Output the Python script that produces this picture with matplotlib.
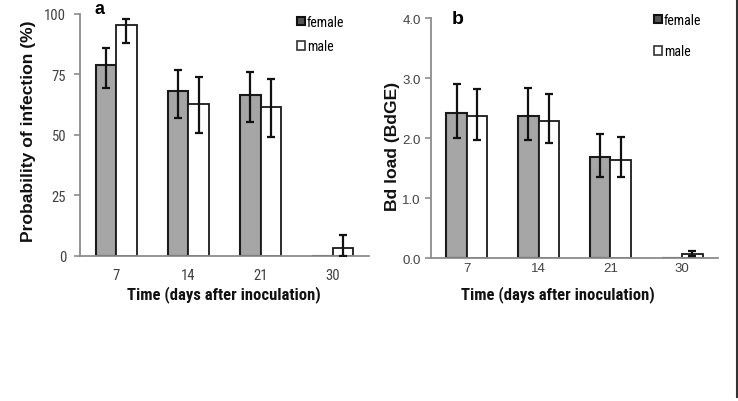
import numpy as np
import matplotlib
matplotlib.use('Agg')
import matplotlib.pyplot as plt
from matplotlib import font_manager
from matplotlib.patches import Patch

# pick a narrow family if there is one
def pick(fams):
    for f in fams:
        try:
            font_manager.findfont(f, fallback_to_default=False)
            return f
        except Exception:
            pass
    return 'DejaVu Sans'

NARROW = pick(['Liberation Sans Narrow', 'Roboto Condensed', 'Liberation Sans'])
SANS = pick(['Liberation Sans', 'DejaVu Sans'])

days = ['7', '14', '21', '30']

# panel a: probability of infection (%)
a_female = [79, 68, 66.5, 0]
a_female_lo = [69.5, 57, 55.5, np.nan]
a_female_hi = [86, 77, 76, np.nan]
a_male = [95.5, 63, 61.5, 3.3]
a_male_lo = [88, 51, 49, 0]
a_male_hi = [98, 74, 73, 8.7]

# panel b: Bd load (BdGE)
b_female = [2.42, 2.36, 1.68, 0]
b_female_lo = [2.0, 1.96, 1.35, np.nan]
b_female_hi = [2.9, 2.84, 2.07, np.nan]
b_male = [2.36, 2.29, 1.64, 0.06]
b_male_lo = [1.97, 1.91, 1.35, 0.03]
b_male_hi = [2.82, 2.73, 2.01, 0.11]

GREY = '#a6a6a6'
AXC = '#8c8c8c'
TXT = '#404040'

fig = plt.figure(figsize=(7.38, 4.02), dpi=100)

# full-figure overlay, only used for the frame line at the right edge
bg = fig.add_axes([0, 0, 1, 1], zorder=-1)
bg.set_xlim(0, 738)
bg.set_ylim(402, 0)
bg.axis('off')
bg.plot([736.5, 736.5], [0, 398], color='#333333', linewidth=1.5)

ax = fig.add_axes([0.1084, 0.3607, 0.3916, 0.602])
ax2 = fig.add_axes([0.584, 0.3557, 0.389, 0.597])

x = np.arange(len(days))
w = 0.285

def panel(ax, fem, flo, fhi, mal, mlo, mhi, pad):
    fem = np.array(fem); mal = np.array(mal)
    ferr = [fem - np.array(flo), np.array(fhi) - fem]
    merr = [mal - np.array(mlo), np.array(mhi) - mal]
    ax.bar(x - w / 2, fem, w, color=GREY, edgecolor='#1a1a1a', linewidth=1.5, zorder=2)
    ax.bar(x + w / 2, mal, w, color='white', edgecolor='#1a1a1a', linewidth=1.3, zorder=2)
    ax.errorbar(x - w / 2, fem, yerr=ferr, fmt='none', ecolor='#111111', elinewidth=1.6,
                capsize=3, capthick=1.6, zorder=3)
    ax.errorbar(x + w / 2, mal, yerr=merr, fmt='none', ecolor='#111111', elinewidth=1.6,
                capsize=3, capthick=1.6, zorder=3)
    ax.set_xlim(-0.5, 3.5)
    ax.set_xticks(x)
    ax.set_xticklabels(days)
    ax.patch.set_alpha(0)
    for s in ['top', 'right']:
        ax.spines[s].set_visible(False)
    for s in ['left', 'bottom']:
        ax.spines[s].set_color(AXC)
        ax.spines[s].set_linewidth(1.3)
    ax.tick_params(axis='x', length=0, pad=pad, colors=TXT)
    ax.tick_params(axis='y', length=4, width=1.2, colors=TXT)
    ax.tick_params(axis='y', color=AXC)

panel(ax, a_female, a_female_lo, a_female_hi, a_male, a_male_lo, a_male_hi, 9)
ax.set_ylim(0, 100)
ax.set_yticks([0, 25, 50, 75, 100])
for t in ax.get_xticklabels() + ax.get_yticklabels():
    t.set_fontfamily(NARROW)
    t.set_fontsize(10.5)
ax.tick_params(axis='y', pad=6)
ax.set_ylabel('Probability of infection (%)', fontfamily=SANS, fontweight='bold',
              fontsize=12.6, color='#111111')
ax.yaxis.set_label_coords(29 / 738, 1 - 131 / 402, transform=fig.transFigure)
ax.yaxis.label.set_va('center')
fig.text(224 / 738, 1 - 295 / 402, 'Time (days after inoculation)', fontfamily=NARROW,
         fontweight='bold', fontsize=12, color='#111111', ha='center', va='center')
ax.text(100 / 738, 1 - 9 / 402, 'a', transform=fig.transFigure, fontfamily=SANS,
        fontweight='bold', fontsize=13, ha='center', va='center')

panel(ax2, b_female, b_female_lo, b_female_hi, b_male, b_male_lo, b_male_hi, 3)
ax2.set_ylim(0, 4)
ax2.set_yticks([0, 1, 2, 3, 4])
ax2.set_yticklabels(['0.0', '1.0', '2.0', '3.0', '4.0'])
for t in ax2.get_xticklabels() + ax2.get_yticklabels():
    t.set_fontfamily(SANS)
    t.set_fontsize(9.5)
ax2.set_ylabel('Bd load (BdGE)', fontfamily=SANS, fontweight='bold',
               fontsize=12.6, color='#111111')
ax2.yaxis.set_label_coords(393 / 738, 1 - 146 / 402, transform=fig.transFigure)
ax2.yaxis.label.set_va('center')
fig.text(558 / 738, 1 - 295 / 402, 'Time (days after inoculation)', fontfamily=NARROW,
         fontweight='bold', fontsize=12, color='#111111', ha='center', va='center')
ax2.text(458 / 738, 1 - 20 / 402, 'b', transform=fig.transFigure, fontfamily=SANS,
         fontweight='bold', fontsize=14, ha='center', va='center')

def add_legend(ax, px, py, gap, size):
    h = [Patch(facecolor='#555555', edgecolor='#111111', linewidth=1.5),
         Patch(facecolor='white', edgecolor='#333333', linewidth=1.2)]
    ax.legend(h, ['female', 'male'], loc='upper left',
              bbox_to_anchor=(px / 738, 1 - py / 402), bbox_transform=fig.transFigure,
              frameon=False, handlelength=0.55, handleheight=0.55, handletextpad=0.15,
              labelspacing=gap, borderpad=0, borderaxespad=0,
              prop={'family': NARROW, 'size': size})

add_legend(ax, 297, 16, 0.75, 10)
add_legend(ax2, 654, 14, 1.25, 10)

fig.savefig('out.png', dpi=100)
